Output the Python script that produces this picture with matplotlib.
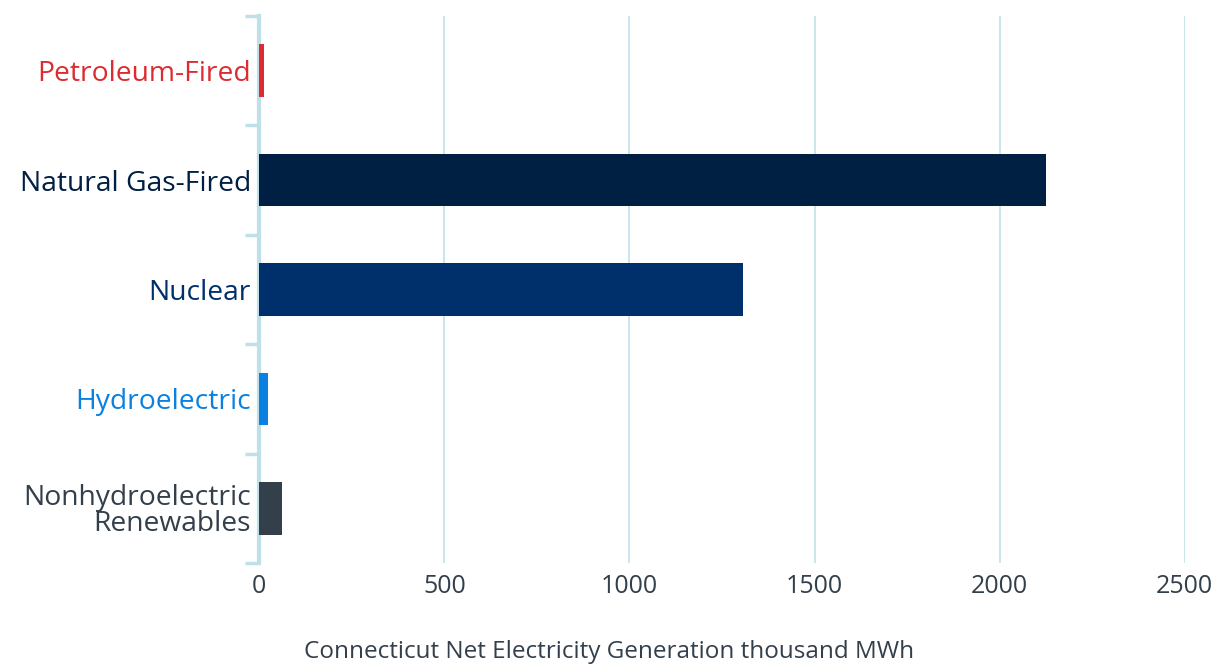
import matplotlib.pyplot as plt

categories = ['Petroleum-Fired', 'Natural Gas-Fired', 'Nuclear', 'Hydroelectric',
              'Nonhydroelectric\nRenewables']
values = [14, 2124, 1307, 23, 62]
colors = ['#dc2b31', '#002043', '#00306b', '#0a80e0', '#333f4a']
xticks = [0, 500, 1000, 1500, 2000, 2500]

plt.rcParams['font.family'] = ['Open Sans', 'DejaVu Sans']

fig = plt.figure(figsize=(12.19, 6.64), dpi=100)
ax = fig.add_axes([0.2127, 0.152, 0.9719 - 0.2127, 0.9759 - 0.152])

ypos = list(range(len(categories)))
ax.barh(ypos, values, height=0.48, color=colors, zorder=3)

ax.set_xlim(0, 2500)
ax.set_ylim(len(categories) - 0.5, -0.5)
ax.set_xticks(xticks)
ax.set_xticklabels([str(t) for t in xticks], fontsize=18, color='#333f4a')
ax.set_yticks(ypos)
ax.set_yticklabels(categories, fontsize=20.3, linespacing=0.92)
for lbl, c in zip(ax.get_yticklabels(), colors):
    lbl.set_color(c)

# category boundary ticks on the y axis
ax.set_yticks([i - 0.5 for i in range(len(categories) + 1)], minor=True)
ax.tick_params(axis='y', which='major', length=0, pad=6)
ax.tick_params(axis='y', which='minor', length=10, width=2.5, color='#bfe0e8')
ax.tick_params(axis='x', length=0, pad=8)

ax.grid(axis='x', color='#c5e3ea', linewidth=1.3, zorder=0)
for s in ['top', 'right', 'bottom']:
    ax.spines[s].set_visible(False)
ax.spines['left'].set_color('#bfe0e8')
ax.spines['left'].set_linewidth(3)

# x label is centred on the figure, not on the axes
ax.set_xlabel('Connecticut Net Electricity Generation thousand MWh',
              fontsize=17.5, color='#333f4a')
ax.xaxis.set_label_coords(0.378, -0.14)

plt.savefig('out.png', dpi=100)
